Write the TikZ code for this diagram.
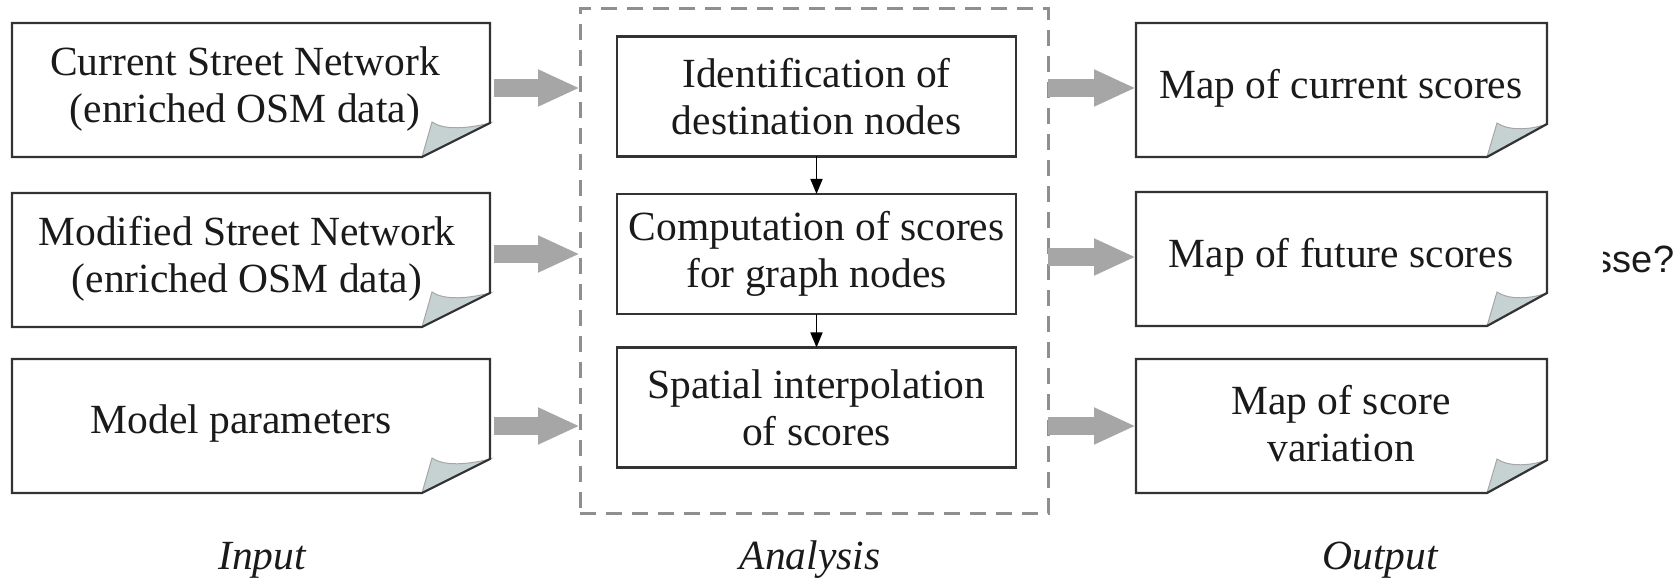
\documentclass[tikz,border=0pt]{standalone}
\usepackage{fontspec}
\setmainfont{Liberation Serif}
\newfontfamily\arialf{Liberation Sans}
\usetikzlibrary{arrows.meta,calc}
\definecolor{flapc}{HTML}{C5D2D1}
\definecolor{arrowc}{HTML}{A6A6A6}
\definecolor{dashc}{HTML}{8F8F8F}
\definecolor{linec}{HTML}{333333}
\definecolor{textc}{HTML}{1A1A1A}
\newcommand\boxfont{\fontsize{20.75pt}{23.5pt}\selectfont}
\newcommand\labelfont{\fontsize{20.75pt}{23.5pt}\selectfont\itshape}
\newcommand\docoutline[3]{%
  \draw[flap] ($(#1.south east)+(-#2,0)$) -- ($(#1.south east)+(-#2+10,-#3-1)$)
     .. controls ($(#1.south east)+(-#2+20,-#3+6)$) and ($(#1.south east)+(-#2+40,-#3+7)$) ..
     ($(#1.south east)+(0,-#3)$) -- cycle;
  \draw[docline] (#1.north west) -- (#1.north east) -- ($(#1.south east)+(0,-#3)$)
     -- ($(#1.south east)+(-#2,0)$) -- (#1.south west) -- cycle;
}
\begin{document}
\begin{tikzpicture}[x=0.5pt,y=-0.5pt,
  boxbase/.style={draw=none, inner sep=0pt, outer sep=0pt, minimum height=67pt},
  leftbox/.style={boxbase, minimum width=239pt},
  rightbox/.style={boxbase, minimum width=205.5pt},
  stepbox/.style={draw=linec, line width=1.1pt, inner sep=0pt, outer sep=0pt,
    minimum width=199.5pt, minimum height=60pt, align=center, font=\boxfont, text=textc},
  boxtext/.style={align=center, font=\boxfont, text=textc, inner sep=0pt},
  docline/.style={draw=linec, line width=1.1pt, line join=miter},
  flap/.style={fill=flapc, draw=gray!70, line width=0.5pt},
  groupbox/.style={draw=dashc, line width=1.5pt, dash pattern=on 8pt off 5pt,
    inner sep=0pt, outer sep=0pt, minimum width=234pt, minimum height=252.5pt},
  bigarrow/.style={draw=arrowc, line width=9pt, -{Triangle[length=21pt,width=17pt]}},
  smallarrow/.style={draw=black, line width=0.8pt, -{Triangle[length=7.5pt,width=6pt]}},
  grouplabel/.style={font=\labelfont, text=textc, anchor=base, inner sep=0pt}
]
\useasboundingbox (0,0) rectangle (1676,581);

% Analysis group
\node[groupbox] (ana) at (814,261.5) {};

% Input documents
\node[leftbox] (l1) at (251,90) {};
\node[leftbox] (l2) at (251,260) {};
\node[leftbox] (l3) at (251,426) {};
\docoutline{l1}{68}{34}
\docoutline{l2}{68}{34}
\docoutline{l3}{68}{34}
\node[boxtext] (l1t) at (245,89) {Current Street Network\\(enriched OSM data)};
\node[boxtext] (l2t) at (247,259) {Modified Street Network\\(enriched OSM data)};
\node[boxtext] (l3t) at (241,424) {Model parameters};

% Analysis steps
\node[stepbox] (c1) at (816.5,96.5) {Identification of\\destination nodes};
\node[stepbox] (c2) at (816.5,254) {Computation of scores\\for graph nodes};
\node[stepbox] (c3) at (816.5,407.5) {Spatial interpolation\\of scores};

% Output documents
\node[rightbox] (r1) at (1341.5,90) {};
\node[rightbox] (r2) at (1341.5,259) {};
\node[rightbox] (r3) at (1341.5,426) {};
\docoutline{r1}{60}{33}
\docoutline{r2}{60}{33}
\docoutline{r3}{60}{33}
\node[boxtext] (r1t) at (1341,88) {Map of current scores};
\node[boxtext] (r2t) at (1341,257) {Map of future scores};
\node[boxtext] (r3t) at (1341,424) {Map of score\\variation};

% Connectors
\coordinate (a1s) at ([xshift=2pt,yshift=1pt]l1.east);
\coordinate (a2s) at ([xshift=2pt,yshift=3pt]l2.east);
\coordinate (a3s) at ([xshift=2pt]l3.east);
\draw[bigarrow] (a1s) -- (ana.west |- a1s);
\draw[bigarrow] (a2s) -- (ana.west |- a2s);
\draw[bigarrow] (a3s) -- (ana.west |- a3s);
\coordinate (b1e) at ([yshift=1pt]r1.west);
\coordinate (b2e) at ([yshift=1pt]r2.west);
\coordinate (b3e) at (r3.west);
\draw[bigarrow] (ana.east |- b1e) -- (b1e);
\draw[bigarrow] (ana.east |- b2e) -- (b2e);
\draw[bigarrow] (ana.east |- b3e) -- (b3e);
\draw[smallarrow] (c1.south) -- (c2.north);
\draw[smallarrow] (c2.south) -- (c3.north);

% Group labels
\node[grouplabel] (inl) at (262,570) {Input};
\node[grouplabel] (anl) at (810,570) {Analysis};
\node[grouplabel] (outl) at (1380,570) {Output};

% Stray text fragment
\begin{scope}
\clip (1603,200) rectangle (1676,320);
\node[font=\arialf\fontsize{19pt}{22pt}\selectfont, anchor=base west, inner sep=0pt, text=textc] (stray) at (1593.5,273) {sse?};
\end{scope}
\end{tikzpicture}
\end{document}
